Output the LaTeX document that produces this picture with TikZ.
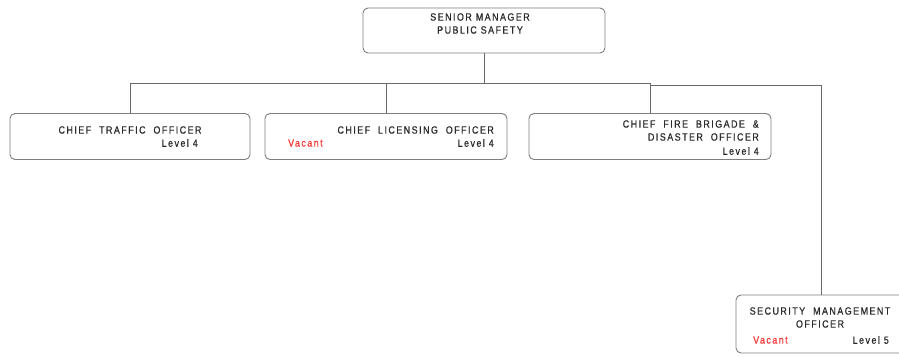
\documentclass[tikz,border=0pt]{standalone}
\usepackage{fontspec}
\usepackage{xcolor}
\usepackage{tikz}
\newfontfamily\orgfont[LetterSpace=14,FakeStretch=0.85,FakeBold=0.6]{Liberation Sans}
\definecolor{txtgray}{HTML}{2A2A2A}
\definecolor{linegray}{HTML}{6A6A6A}
\definecolor{boxgray}{HTML}{7E7E7E}
\definecolor{vacantred}{HTML}{F53333}
\tikzset{
  box/.style={draw=boxgray,line width=0.9pt,rounded corners=5pt,fill=white,inner sep=0pt},
  lbl/.style={inner sep=0pt,text=txtgray,font=\orgfont\fontsize{10.5}{13}\selectfont},
  vac/.style={lbl,text=vacantred,anchor=west},
  link/.style={draw=linegray,line width=1pt}
}

\begin{document}
\begin{tikzpicture}[x=1pt,y=-1pt]
          % frame
          \useasboundingbox (0,0) rectangle (899,356);
          \clip (0,0) rectangle (899,356);

          % boxes
          \node[box,minimum width=242pt,minimum height=45pt] (senior) at (484,30.5) {};
          \node[box,minimum width=240pt,minimum height=46pt] (traffic) at (130,136.5) {};
          \node[box,minimum width=242pt,minimum height=46pt] (licensing) at (386,136.5) {};
          \node[box,minimum width=242pt,minimum height=46pt] (fire) at (650,136.5) {};
          \node[box,minimum width=170pt,minimum height=58pt] (security) at (821,324) {};

          % connectors
          \coordinate (bus) at (484,83);
          \coordinate (bustwo) at (650,85);
          \draw[link] (senior.south) -- (bus);
          \draw[link] (traffic.north) |- (fire.north |- bus) -- (fire.north);
          \draw[link] (licensing.north) -- (licensing.north |- bus);
          \draw[link] (bustwo) -| (security.north);

          % texts
          \node[lbl,align=center] (seniortxt) at (480,23.5) {SENIOR MANAGER\\PUBLIC SAFETY};

          \node[lbl] (traffictxt) at (130,130) {CHIEF\ \ TRAFFIC\ \ OFFICER};
          \node[lbl,anchor=east] (trafficlvl) at (198,143) {Level 4};

          \node[lbl,anchor=east] (licensingtxt) at (494,130) {CHIEF\ \ LICENSING\ \ OFFICER};
          \node[vac] (licensingvac) at (288,143) {Vacant};
          \node[lbl,anchor=east] (licensinglvl) at (494,143) {Level 4};

          \node[lbl,anchor=east,align=right] (firetxt) at (759,130.5) {CHIEF\ \ FIRE\ \ BRIGADE\ \ \&\\DISASTER\ \ OFFICER};
          \node[lbl,anchor=east] (firelvl) at (759,151) {Level 4};

          \node[lbl,align=center] (securitytxt) at (820,317.5) {SECURITY\ \ MANAGEMENT\\OFFICER};
          \node[vac] (securityvac) at (753,340) {Vacant};
          \node[lbl,anchor=east] (securitylvl) at (889,340) {Level 5};
\end{tikzpicture}
\end{document}
